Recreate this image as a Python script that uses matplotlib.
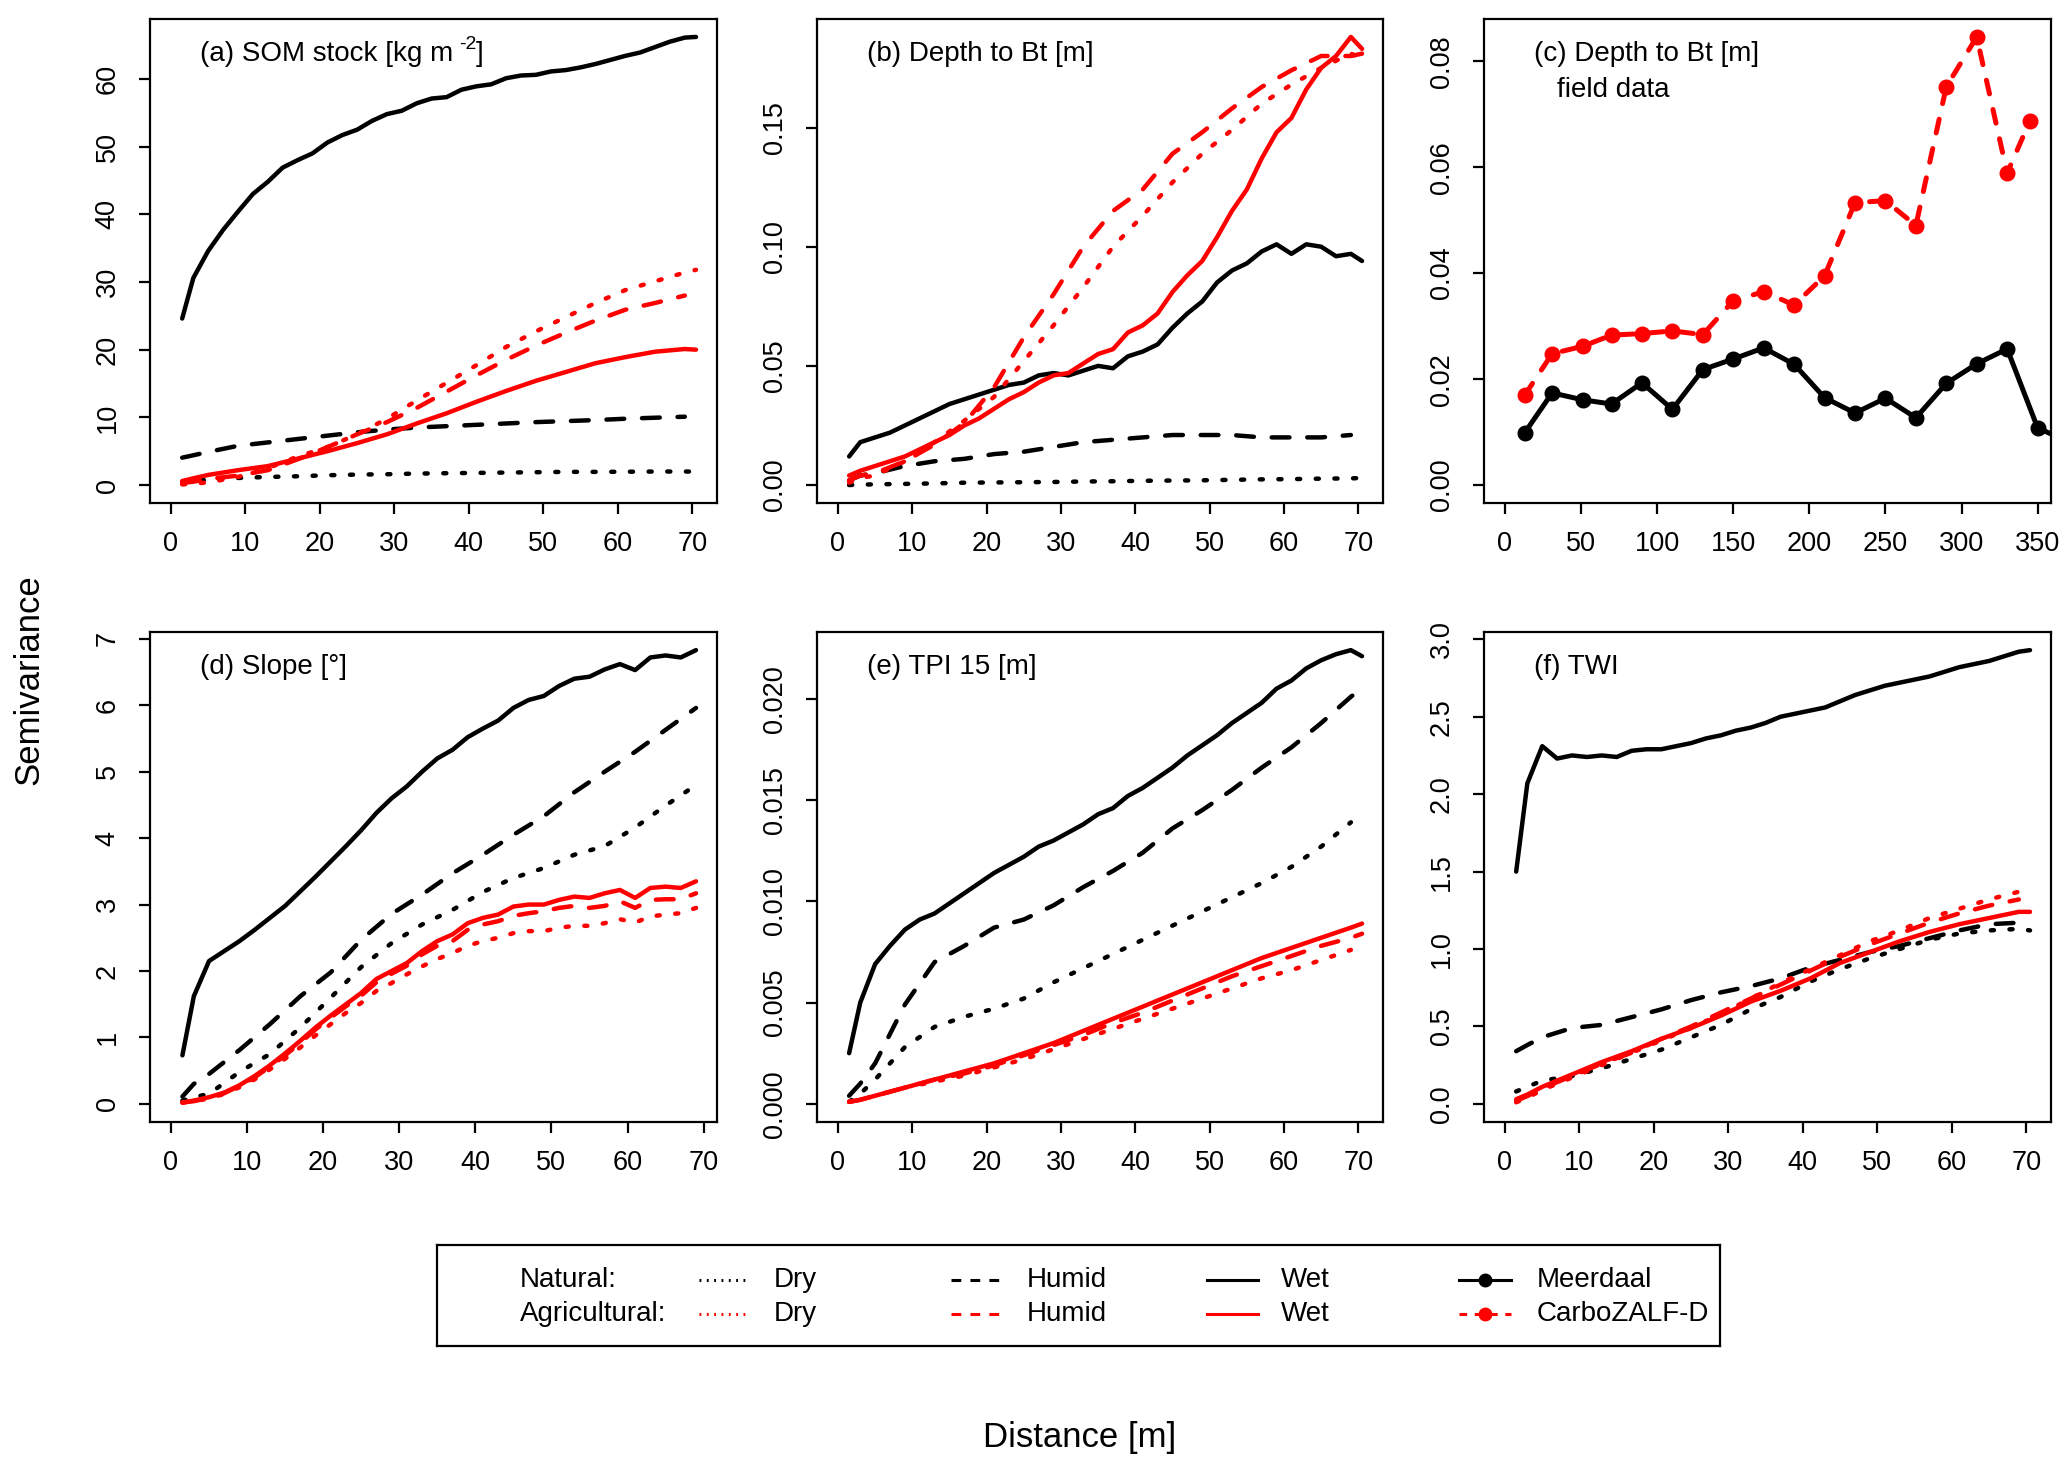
import matplotlib
matplotlib.use('Agg')
import matplotlib.pyplot as plt
from matplotlib.transforms import offset_copy

plt.rcParams['font.family'] = ['Liberation Sans', 'DejaVu Sans']

# lag distances [m]
lag2 = [1.5, 3, 5, 7, 9, 11, 13, 15, 17, 19, 21, 23, 25, 27, 29, 31, 33, 35,
        37, 39, 41, 43, 45, 47, 49, 51, 53, 55, 57, 59, 61, 63, 65, 67, 69, 70.5]
lag4 = [1.5, 3, 5, 9, 13, 17, 21, 25, 29, 33, 37, 41, 45, 49, 53, 57, 61, 65, 69, 70.5]

# (a) SOM stock
a_nat_wet = [24.6, 30.6, 34.6, 37.7, 40.4, 43, 44.8, 46.9, 48, 49, 50.6, 51.7, 52.5, 53.8,
             54.8, 55.3, 56.4, 57.1, 57.3, 58.4, 58.9, 59.2, 60.1, 60.5, 60.6, 61.1, 61.3,
             61.7, 62.2, 62.8, 63.4, 63.9, 64.7, 65.5, 66.1, 66.2]
a_nat_hum = [4.05, 4.4, 4.9, 5.8, 6.3, 6.8, 7.3, 7.8, 8.2, 8.5, 8.7, 8.9, 9.1, 9.3, 9.45,
             9.6, 9.8, 9.95, 10.1]
a_nat_dry = [0.4, 0.6, 0.8, 1.05, 1.2, 1.3, 1.45, 1.55, 1.6, 1.7, 1.75, 1.8, 1.85, 1.9,
             1.95, 1.95, 1.97, 2.0, 2.0, 2.0]
a_agr_dry = [0.1, 0.2, 0.4, 1.2, 2.5, 4.2, 5.6, 7.5, 9.8, 12.5, 15.1, 17.7, 20.4, 22.7,
             24.8, 26.9, 28.8, 30.1, 31.4, 31.8]
a_agr_hum = [0.3, 0.5, 0.9, 1.4, 2.2, 3.8, 5.6, 7.5, 9.3, 11.4, 13.8, 16.2, 18.5, 20.6,
             22.5, 24.3, 25.9, 26.9, 28.0]
a_agr_wet = [0.6, 1.0, 1.5, 2.2, 2.8, 3.9, 5.0, 6.2, 7.5, 9.1, 10.6, 12.3, 13.9, 15.4,
             16.7, 18.0, 18.9, 19.7, 20.1, 20.0]

# (b) Depth to Bt
b_nat_wet = [0.012, 0.018, 0.020, 0.022, 0.025, 0.028, 0.031, 0.034, 0.036, 0.038, 0.040,
             0.042, 0.043, 0.046, 0.047, 0.046, 0.048, 0.050, 0.049, 0.054, 0.056, 0.059,
             0.066, 0.072, 0.077, 0.085, 0.090, 0.093, 0.098, 0.101, 0.097, 0.101, 0.100,
             0.096, 0.097, 0.094]
b_nat_hum = [0.002, 0.004, 0.005, 0.008, 0.010, 0.011, 0.013, 0.014, 0.016, 0.018, 0.019,
             0.020, 0.021, 0.021, 0.021, 0.020, 0.020, 0.020, 0.021]
b_nat_dry = [0.0, 0.0002, 0.0003, 0.0005, 0.0007, 0.001, 0.0011, 0.0012, 0.0013, 0.0015,
             0.0016, 0.0018, 0.0019, 0.002, 0.0022, 0.0024, 0.0025, 0.0027, 0.0028, 0.003]
b_agr_wet = [0.004, 0.006, 0.008, 0.010, 0.012, 0.015, 0.018, 0.021, 0.025, 0.028, 0.032,
             0.036, 0.039, 0.043, 0.046, 0.047, 0.051, 0.055, 0.057, 0.064, 0.067, 0.072,
             0.081, 0.088, 0.094, 0.104, 0.115, 0.124, 0.137, 0.148, 0.154, 0.166, 0.175,
             0.180, 0.188, 0.183]
b_agr_hum = [0.002, 0.004, 0.005, 0.010, 0.017, 0.026, 0.041, 0.062, 0.080, 0.100, 0.115,
             0.124, 0.139, 0.148, 0.158, 0.167, 0.174, 0.180, 0.180, 0.181]
b_agr_dry = [0.001, 0.003, 0.004, 0.010, 0.018, 0.027, 0.037, 0.052, 0.067, 0.083, 0.100,
             0.113, 0.127, 0.139, 0.149, 0.160, 0.168, 0.175, 0.181, 0.179]

# (c) Depth to Bt, field data
c_dist_meer = [13, 31, 51, 70, 90, 110, 130, 150, 170, 190, 210, 230, 250, 270, 290, 310,
               330, 350, 370]
c_meerdaal = [0.0099, 0.0174, 0.0161, 0.0153, 0.0193, 0.0143, 0.0218, 0.0238, 0.0259,
              0.0228, 0.0165, 0.0136, 0.0164, 0.0127, 0.0192, 0.0229, 0.0257, 0.0108, 0.0082]
c_dist_zalf = [13, 31, 51, 70, 90, 110, 130, 150, 170, 190, 210, 230, 250, 270, 290, 310,
               330, 345]
c_carbozalf = [0.0170, 0.0248, 0.0262, 0.0283, 0.0286, 0.0291, 0.0284, 0.0348, 0.0365,
               0.0340, 0.0395, 0.0533, 0.0537, 0.0490, 0.0752, 0.0846, 0.0589, 0.0688]

# (d) Slope
d_nat_wet = [0.73, 1.62, 2.15, 2.3, 2.45, 2.62, 2.8, 2.98, 3.2, 3.42, 3.65, 3.88, 4.12, 4.38,
             4.6, 4.78, 5.0, 5.2, 5.33, 5.52, 5.65, 5.77, 5.96, 6.08, 6.14, 6.29, 6.4, 6.43,
             6.54, 6.62, 6.53, 6.72, 6.75, 6.72, 6.83]
d_nat_hum = [0.11, 0.3, 0.45, 0.81, 1.2, 1.62, 1.98, 2.47, 2.86, 3.15, 3.47, 3.75, 4.05, 4.33,
             4.69, 5.0, 5.3, 5.63, 5.96]
d_nat_dry = [0.05, 0.1, 0.15, 0.48, 0.75, 1.15, 1.6, 2.06, 2.42, 2.7, 2.92, 3.19, 3.4, 3.55,
             3.75, 3.88, 4.16, 4.49, 4.8]
d_agr_wet = [0.02, 0.05, 0.1, 0.17, 0.28, 0.42, 0.58, 0.76, 0.95, 1.15, 1.33, 1.5, 1.67, 1.88,
             2.0, 2.12, 2.3, 2.45, 2.55, 2.72, 2.8, 2.85, 2.97, 3.0, 3.0, 3.07, 3.12, 3.1,
             3.17, 3.22, 3.1, 3.25, 3.27, 3.25, 3.35]
d_agr_hum = [0.02, 0.04, 0.09, 0.16, 0.27, 0.4, 0.56, 0.73, 0.92, 1.12, 1.3, 1.47, 1.63, 1.83,
             1.96, 2.08, 2.25, 2.38, 2.45, 2.62, 2.7, 2.75, 2.83, 2.87, 2.9, 2.95, 2.98, 2.95,
             2.98, 3.05, 2.95, 3.07, 3.08, 3.08, 3.17]
d_agr_dry = [0.02, 0.04, 0.08, 0.15, 0.25, 0.37, 0.52, 0.68, 0.85, 1.03, 1.2, 1.37, 1.52, 1.7,
             1.82, 1.95, 2.07, 2.18, 2.27, 2.38, 2.45, 2.5, 2.57, 2.6, 2.6, 2.65, 2.68, 2.68,
             2.72, 2.78, 2.73, 2.82, 2.85, 2.87, 2.95]

# (e) TPI 15
e_nat_wet = [0.0025, 0.0050, 0.0069, 0.0078, 0.0086, 0.0091, 0.0094, 0.0099, 0.0104, 0.0109,
             0.0114, 0.0118, 0.0122, 0.0127, 0.0130, 0.0134, 0.0138, 0.0143, 0.0146, 0.0152,
             0.0156, 0.0161, 0.0166, 0.0172, 0.0177, 0.0182, 0.0188, 0.0193, 0.0198, 0.0205,
             0.0209, 0.0215, 0.0219, 0.0222, 0.0224, 0.0221]
e_nat_hum = [0.0004, 0.0010, 0.0020, 0.0049, 0.0070, 0.0078, 0.0087, 0.0091, 0.0098, 0.0107,
             0.0115, 0.0124, 0.0136, 0.0145, 0.0155, 0.0166, 0.0176, 0.0188, 0.0201, 0.0205]
e_nat_dry = [0.0001, 0.0005, 0.0012, 0.0028, 0.0038, 0.0043, 0.0047, 0.0052, 0.0060, 0.0067,
             0.0074, 0.0081, 0.0088, 0.0095, 0.0102, 0.0109, 0.0117, 0.0127, 0.0139]
e_agr_wet = [0.0001, 0.0002, 0.0004, 0.0008, 0.0012, 0.0016, 0.0020, 0.0025, 0.0030, 0.0036,
             0.0042, 0.0048, 0.0054, 0.0060, 0.0066, 0.0072, 0.0077, 0.0082, 0.0087, 0.0089]
e_agr_hum = [0.0001, 0.0002, 0.0004, 0.0008, 0.0012, 0.0015, 0.0019, 0.0024, 0.0029, 0.0034,
             0.0040, 0.0045, 0.0051, 0.0057, 0.0063, 0.0068, 0.0073, 0.0078, 0.0082, 0.0084]
e_agr_dry = [0.0001, 0.0002, 0.0004, 0.0008, 0.0011, 0.0014, 0.0018, 0.0022, 0.0027, 0.0032,
             0.0037, 0.0042, 0.0047, 0.0052, 0.0057, 0.0062, 0.0066, 0.0071, 0.0076]

# (f) TWI
f_nat_wet = [1.50, 2.07, 2.31, 2.23, 2.25, 2.24, 2.25, 2.24, 2.28, 2.29, 2.29, 2.31, 2.33, 2.36,
             2.38, 2.41, 2.43, 2.46, 2.50, 2.52, 2.54, 2.56, 2.60, 2.64, 2.67, 2.70, 2.72, 2.74,
             2.76, 2.79, 2.82, 2.84, 2.86, 2.89, 2.92, 2.93]
f_nat_hum = [0.34, 0.38, 0.43, 0.49, 0.51, 0.56, 0.61, 0.67, 0.72, 0.76, 0.81, 0.88, 0.93, 0.98,
             1.02, 1.07, 1.12, 1.16, 1.17, 1.18]
f_nat_dry = [0.08, 0.11, 0.15, 0.18, 0.23, 0.29, 0.35, 0.43, 0.51, 0.61, 0.69, 0.79, 0.87, 0.94,
             1.0, 1.06, 1.1, 1.12, 1.13, 1.12]
f_agr_wet = [0.03, 0.06, 0.11, 0.19, 0.27, 0.34, 0.42, 0.49, 0.57, 0.66, 0.73, 0.81, 0.91, 0.98,
             1.05, 1.11, 1.16, 1.2, 1.24, 1.24]
f_agr_hum = [0.02, 0.05, 0.1, 0.18, 0.26, 0.33, 0.42, 0.5, 0.59, 0.68, 0.77, 0.86, 0.95, 1.03,
             1.1, 1.17, 1.23, 1.28, 1.32]
f_agr_dry = [0.01, 0.04, 0.09, 0.17, 0.25, 0.33, 0.41, 0.49, 0.58, 0.68, 0.78, 0.87, 0.96, 1.05,
             1.12, 1.2, 1.26, 1.32, 1.37]

RED = '#ff0000'
DRY = (0, (0.7, 3.5))
HUM = (0, (4, 4))
LW = 3.2

W, H = 2067, 1470
fig = plt.figure(figsize=(W / 100, H / 100), dpi=100)


def panel(l, t, r, b):
    ax = fig.add_axes([l / W, 1 - b / H, (r - l) / W, (b - t) / H])
    for s in ax.spines.values():
        s.set_linewidth(1.6)
    ax.tick_params(direction='out', length=8, width=1.6, labelsize=19.5)
    ax.tick_params(axis='x', pad=12)
    ax.tick_params(axis='y', labelrotation=90, pad=13)
    return ax


def curve(ax, x, y, color, ls):
    ax.plot(x[:len(y)], y, color=color, linestyle=ls, lw=LW,
            dash_capstyle='round', solid_capstyle='round')


def finish(ax, xmax, ymax, xticks, yticks, yfmt, title):
    ax.set_xlim(-0.04 * xmax, 1.04 * xmax)
    ax.set_ylim(-0.04 * ymax, 1.04 * ymax)
    ax.set_xticks(xticks)
    ax.set_yticks(yticks)
    ax.set_yticklabels([yfmt.format(v) for v in yticks], va='center')
    return ax.text(50 / 567, 1 - 35 / 486, title, transform=ax.transAxes,
                   fontsize=20, ha='left', va='center')


cols = [(150, 717), (817, 1383), (1484, 2051)]
rows = [(19, 503), (632, 1122)]
x70 = [0, 10, 20, 30, 40, 50, 60, 70]

panels = [
    ('(a) SOM stock [kg m', a_nat_dry, a_nat_hum, a_nat_wet, a_agr_dry, a_agr_hum,
     a_agr_wet, (lag4, lag4, lag2, lag4, lag4, lag4), 70.5,
     [0, 10, 20, 30, 40, 50, 60], '{:.0f}', 0, 0),
    ('(b) Depth to Bt [m]', b_nat_dry, b_nat_hum, b_nat_wet, b_agr_dry, b_agr_hum,
     b_agr_wet, (lag4, lag4, lag2, lag4, lag4, lag2), 70.5,
     [0, 0.05, 0.10, 0.15], '{:.2f}', 0, 1),
    ('(d) Slope [°]', d_nat_dry, d_nat_hum, d_nat_wet, d_agr_dry, d_agr_hum,
     d_agr_wet, (lag4, lag4, lag2, lag2, lag2, lag2), 69,
     [0, 1, 2, 3, 4, 5, 6, 7], '{:.0f}', 1, 0),
    ('(e) TPI 15 [m]', e_nat_dry, e_nat_hum, e_nat_wet, e_agr_dry, e_agr_hum,
     e_agr_wet, (lag4, lag4, lag2, lag4, lag4, lag4), 70.5,
     [0, 0.005, 0.010, 0.015, 0.020], '{:.3f}', 1, 1),
    ('(f) TWI', f_nat_dry, f_nat_hum, f_nat_wet, f_agr_dry, f_agr_hum,
     f_agr_wet, (lag4, lag4, lag2, lag4, lag4, lag4), 70.5,
     [0, 0.5, 1.0, 1.5, 2.0, 2.5, 3.0], '{:.1f}', 1, 2),
]

titles = {}
for title, nd, nh, nw, ad, ah, aw, xs, xmax, yt, fmt, ri, ci in panels:
    ax = panel(cols[ci][0], rows[ri][0], cols[ci][1], rows[ri][1])
    curve(ax, xs[0], nd, 'black', DRY)
    curve(ax, xs[1], nh, 'black', HUM)
    curve(ax, xs[2], nw, 'black', '-')
    curve(ax, xs[3], ad, RED, DRY)
    curve(ax, xs[4], ah, RED, HUM)
    curve(ax, xs[5], aw, RED, '-')
    ymax = max(max(s) for s in (nd, nh, nw, ad, ah, aw))
    titles[title] = (ax, finish(ax, xmax, ymax, x70, yt, fmt, title))

# superscript unit in panel (a): "m -2" as in the original
ax_a, t_a = titles['(a) SOM stock [kg m']
renderer = fig.canvas.get_renderer()
bb = t_a.get_window_extent(renderer)
inv = ax_a.transAxes.inverted()
xr, _ = inv.transform((bb.x1, bb.y0))
sup = ax_a.text(xr, 1 - 35 / 486, '-2', transform=offset_copy(ax_a.transAxes, fig, x=4, y=7, units='points'),
                fontsize=14, ha='left', va='center')
bb2 = sup.get_window_extent(renderer)
xr2, _ = inv.transform((bb2.x1, bb2.y0))
ax_a.text(xr2, 1 - 35 / 486, ']', transform=ax_a.transAxes, fontsize=20, ha='left', va='center')

# (c) field data
ax = panel(cols[2][0], rows[0][0], cols[2][1], rows[0][1])
ax.plot(c_dist_meer, c_meerdaal, color='black', lw=3.6, marker='o', ms=10.5,
        solid_capstyle='round')
ax.plot(c_dist_zalf, c_carbozalf, color=RED, lw=3.6, marker='o', ms=10.5,
        linestyle=(0, (2.8, 3.2)), dash_capstyle='round')
finish(ax, 345, max(c_carbozalf), [0, 50, 100, 150, 200, 250, 300, 350],
       [0, 0.02, 0.04, 0.06, 0.08], '{:.2f}', '(c) Depth to Bt [m]')
ax.text(73 / 567, 1 - 71 / 486, 'field data', transform=ax.transAxes,
        fontsize=20, ha='left', va='center')

# legend box
leg = fig.add_axes([437 / W, 1 - 1346 / H, (1720 - 437) / W, (1346 - 1245) / H])
leg.set_xlim(437, 1720)
leg.set_ylim(1346, 1245)
leg.set_xticks([])
leg.set_yticks([])
for s in leg.spines.values():
    s.set_linewidth(1.6)

leg_rows = [('Natural:', 'black', 1280), ('Agricultural:', RED, 1314)]
leg_cols = [('Dry', (0, (0.6, 1.8)), 699, 748, 774), ('Humid', (0, (3.2, 3.0)), 951, 1000, 1027),
            ('Wet', '-', 1207, 1258, 1281)]
for rlabel, color, yy in leg_rows:
    leg.text(520, yy, rlabel, fontsize=20, ha='left', va='center')
    for lab, ls, x0, x1, xt in leg_cols:
        leg.plot([x0, x1], [yy, yy], color=color, linestyle=ls, lw=2.2)
        leg.text(xt, yy, lab, fontsize=20, ha='left', va='center')

for lab, color, ls, yy in [('Meerdaal', 'black', '-', 1280),
                           ('CarboZALF-D', RED, (0, (2.5, 2.5)), 1314)]:
    leg.plot([1459, 1511], [yy, yy], color=color, linestyle=ls, lw=2.2)
    leg.plot([1485], [yy], color=color, marker='o', ms=9)
    leg.text(1537, yy, lab, fontsize=20, ha='left', va='center')

fig.text(29 / W, 1 - 680 / H, 'Semivariance', rotation=90, fontsize=25,
         ha='center', va='center')
fig.text(1080 / W, 1 - 1438 / H, 'Distance [m]', fontsize=25, ha='center', va='center')

fig.savefig('out.png', dpi=100)
